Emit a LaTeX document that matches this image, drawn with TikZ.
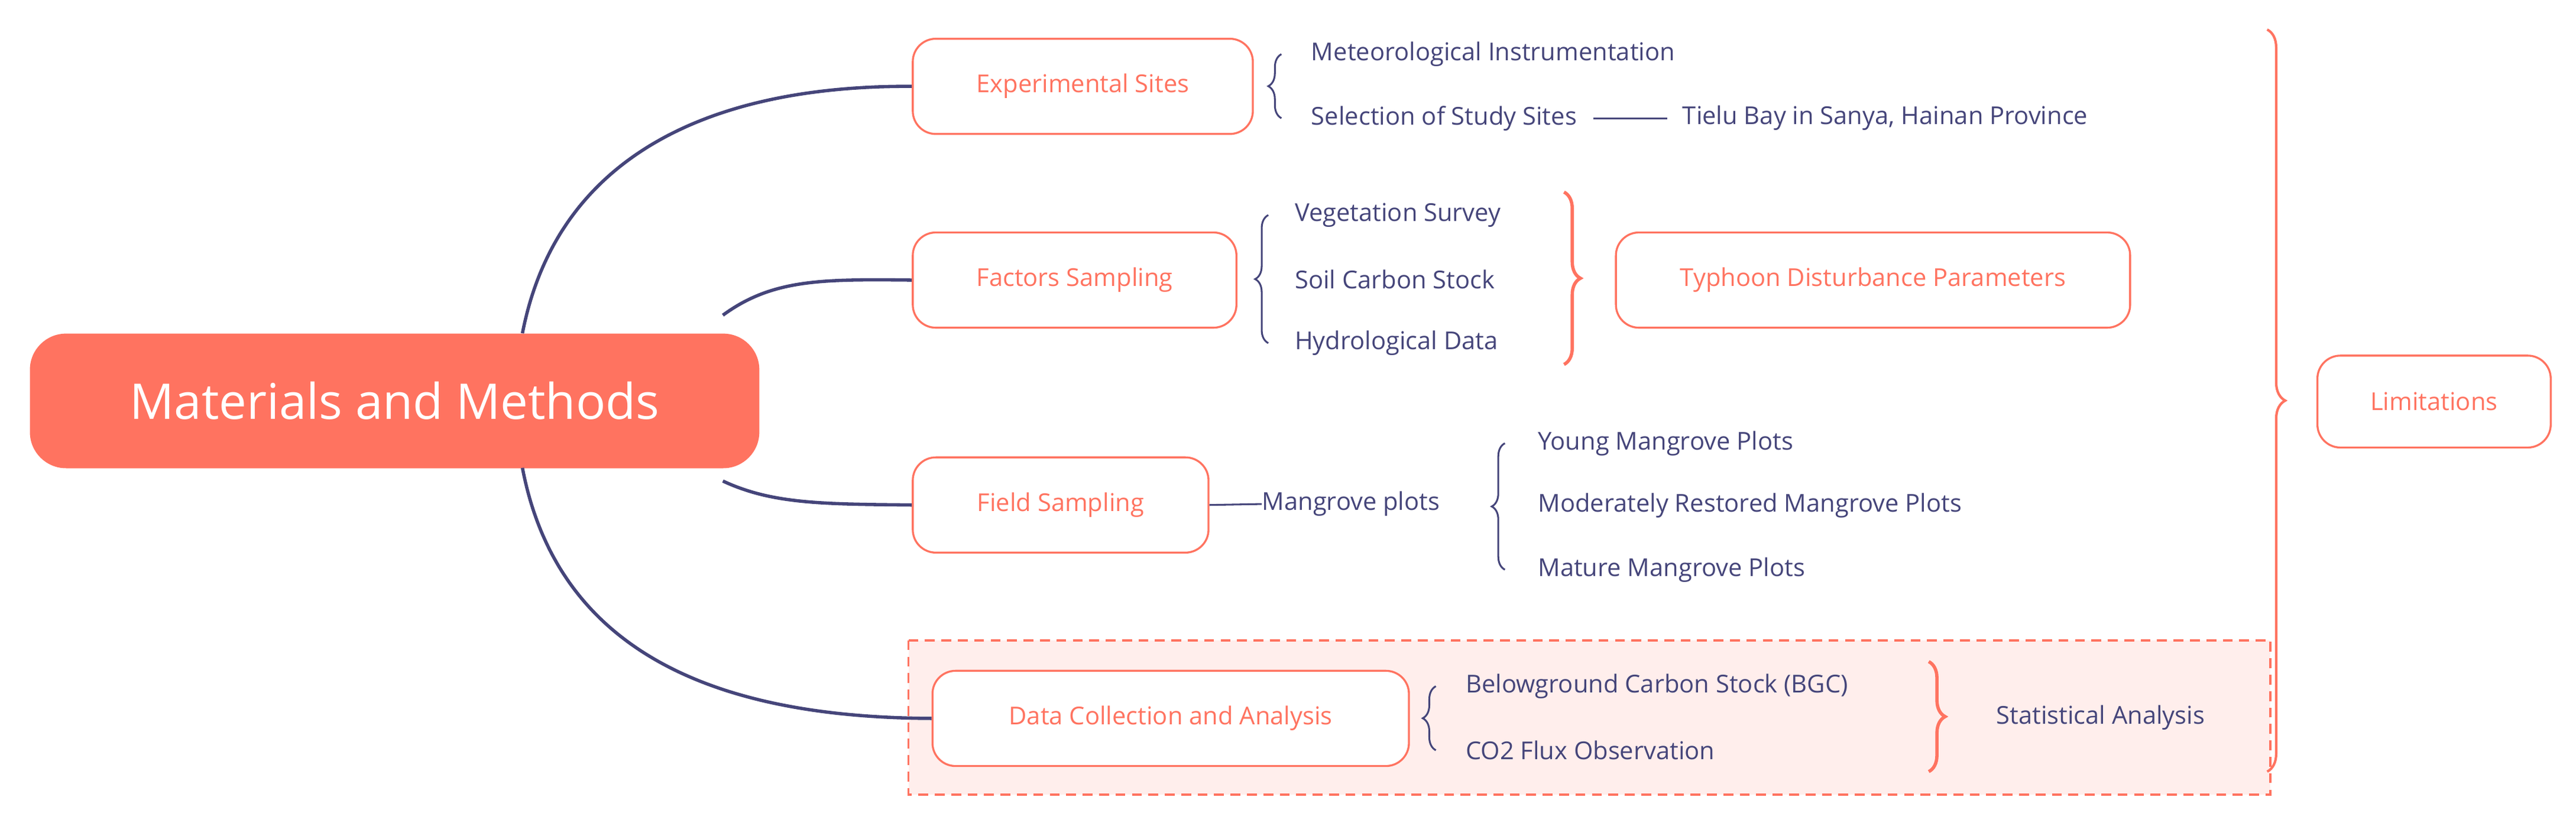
\documentclass[tikz,border=0pt]{standalone}
\usepackage{fontspec}
\setmainfont{Open Sans}
\usetikzlibrary{decorations.pathreplacing}
\definecolor{sal}{HTML}{FF7360}
\definecolor{navy}{HTML}{45457A}
\definecolor{pinkbg}{HTML}{FFEEEC}
\begin{document}
\begin{tikzpicture}[x=1pt,y=-1pt,
 sub/.style={draw=sal,line width=1.2pt,rounded corners=14pt,text=sal,font=\fontsize{15}{18}\selectfont,anchor=north west,inner sep=0},
 lab/.style={text=navy,font=\fontsize{15}{18}\selectfont,anchor=west,inner sep=0},
 con/.style={navy,line width=2pt},
 br/.style={navy,line width=1.1pt,decorate,decoration={brace,amplitude=8pt}},
 bbr/.style={sal,line width=2pt,decorate,decoration={brace,amplitude=10pt}}]
\useasboundingbox (0,0) rectangle (1568,509);
\fill[pinkbg] (553,390) rectangle (1382,484);
\draw[sal,line width=1.3pt,dash pattern=on 6pt off 4pt] (553,390) rectangle (1382,484);
\node[fill=sal,rounded corners=22pt,minimum width=444pt,minimum height=82pt,anchor=north west,text=white,font=\fontsize{30}{36}\selectfont,inner sep=0] (m) at (18,203) {Materials and Methods};
\node[sub,minimum width=207pt,minimum height=58pt] (e) at (555,23) {Experimental Sites};
\node[sub,minimum width=197pt,minimum height=58pt] (f) at (555,141) {Factors Sampling};
\node[sub,minimum width=180pt,minimum height=58pt] (fs) at (555,278) {Field Sampling};
\node[sub,minimum width=290pt,minimum height=58pt,fill=white] (d) at (567,408) {Data Collection and Analysis};
\node[sub,minimum width=313pt,minimum height=58pt] (t) at (983,141) {Typhoon Disturbance Parameters};
\node[sub,minimum width=142pt,minimum height=56pt] (l) at (1410,216) {Limitations};
\coordinate (m1) at (318,203); \coordinate (m2) at (440,192);
\coordinate (m3) at (440,293); \coordinate (m4) at (318,285);
\draw[con] (m1) .. controls (340,90) and (440,52) .. (e.west);
\draw[con] (m2) .. controls (470,170) and (500,170) .. (f.west);
\draw[con] (m3) .. controls (470,307) and (500,307) .. (fs.west);
\draw[con] (m4) .. controls (340,400) and (440,437) .. (d.west);
% experimental
\draw[br] (780,72) -- (780,33);
\node[lab] (e1) at (798,33) {Meteorological Instrumentation};
\node[lab] (e2) at (798,72) {Selection of Study Sites};
\node[lab] (e3) at (1024,72) {Tielu Bay in Sanya, Hainan Province};
\draw[navy,line width=1.1pt] ([xshift=10pt]e2.east) -- ([xshift=-9pt]e3.west);
% factors
\draw[br] (772,209) -- (772,131);
\node[lab] at (788,131) {Vegetation Survey};
\node[lab] at (788,170) {Soil Carbon Stock};
\node[lab] at (788,209) {Hydrological Data};
\draw[bbr] (952,117) -- (952,222);
% field
\node[lab] (mp) at (768,307) {Mangrove plots};
\draw[navy,line width=1.1pt] (fs.east) -- (mp.west);
\draw[br] (916,347) -- (916,270);
\node[lab] at (936,270) {Young Mangrove Plots};
\node[lab] at (936,308) {Moderately Restored Mangrove Plots};
\node[lab] at (936,347) {Mature Mangrove Plots};
% data
\draw[br] (874,457) -- (874,418);
\node[lab] at (892,418) {Belowground Carbon Stock (BGC)};
\node[lab] at (892,457) {CO2 Flux Observation};
\draw[bbr] (1174,403) -- (1174,470);
\node[lab] (sa) at (1215,437) {Statistical Analysis};
% limitations
\draw[sal,line width=1.5pt,decorate,decoration={brace,amplitude=11pt,aspect=0.5}] (1380,18) -- (1380,470);
\end{tikzpicture}
\end{document}
